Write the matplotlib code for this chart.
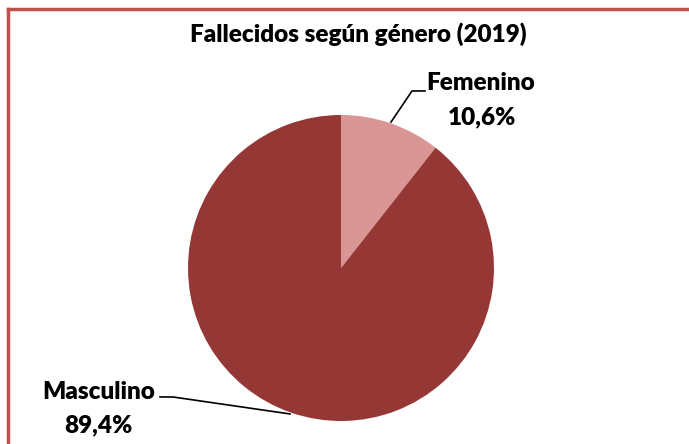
import matplotlib.pyplot as plt
import matplotlib.lines as mlines

# data
generos = ['Femenino', 'Masculino']
porcentajes = [10.6, 89.4]
colores = ['#D99694', '#953735']

titulo = 'Fallecidos según género (2019)'

W, H = 689, 444
fig = plt.figure(figsize=(W / 100, H / 100), dpi=100)

# pie centre and radius in pixels of the reference
cx, cy, r = 341, 268, 153
ax = fig.add_axes([(cx - r) / W, (H - cy - r) / H, 2 * r / W, 2 * r / H])
ax.pie(porcentajes, colors=colores, startangle=90, counterclock=False,
       radius=1, wedgeprops={'linewidth': 0})
ax.set_xlim(-1, 1)
ax.set_ylim(-1, 1)
ax.set_aspect('equal')
ax.axis('off')

font = {'family': ['Lato', 'DejaVu Sans'], 'weight': 'heavy', 'size': 17.5}

# leader lines (data units of the pie axes)
ax.plot([0.327, 0.464, 0.549], [0.954, 1.157, 1.157], color='black', lw=1.2, clip_on=False)
ax.plot([-0.333, -1.098, -1.183], [-0.954, -0.843, -0.843], color='black', lw=1.2, clip_on=False)

ax.text(0.91, 1.206, generos[0], ha='center', va='center', fontdict=font, clip_on=False)
ax.text(0.92, 0.984, '10,6%', ha='center', va='center', fontdict=font, clip_on=False)
ax.text(-1.585, -0.810, generos[1], ha='center', va='center', fontdict=font, clip_on=False)
ax.text(-1.585, -1.026, '89,4%', ha='center', va='center', fontdict=font, clip_on=False)

fig.text(358 / W, 1 - 34 / H, titulo, ha='center', va='center', **font)

# frame: top and left border only (rest is cropped)
fig.add_artist(mlines.Line2D([8 / W, 1], [1 - 9 / H, 1 - 9 / H], color='#C0504D', lw=2.5))
fig.add_artist(mlines.Line2D([8 / W, 8 / W], [0, 1 - 9 / H], color='#C0504D', lw=2.5))

fig.savefig('out.png', dpi=100)
